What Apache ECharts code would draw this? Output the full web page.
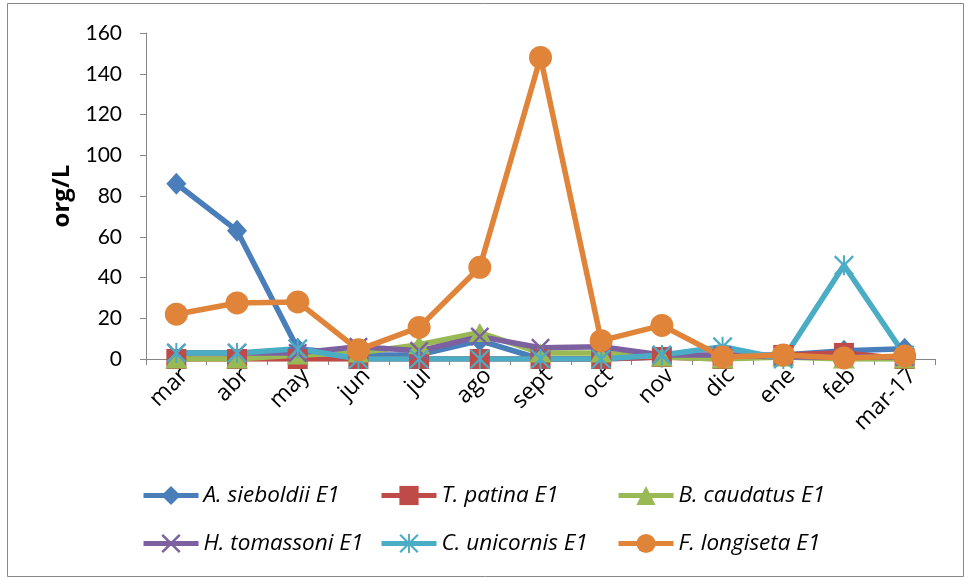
<!DOCTYPE html>
<html><head><meta charset="utf-8">
<script src="https://cdn.jsdelivr.net/npm/echarts@6/dist/echarts.min.js"></script>
<style>html,body{margin:0;padding:0;background:#fff}#c{width:969px;height:580px}</style>
</head><body><div id="c"></div>
<script>
var months = ['mar','abr','may','jun','jul','ago','sept','oct','nov','dic','ene','feb','mar-17'];
var yTicks = [0,20,40,60,80,100,120,140,160];
var seriesNames = ['A. sieboldii E1','T. patina E1','B. caudatus E1','H. tomassoni E1','C. unicornis E1','F. longiseta E1'];
var sieboldii  = [86, 63, 5, 2, 2, 9, 0, 0, 1, 2, 2, 4, 5];
var patina     = [0, 0, 0, 0, 0, 0, 0, 0, 1, 0, 2, 3, 0];
var caudatus   = [0, 0, 2, 3, 7, 13, 3, 3, 1, 0, 1, 0, 0];
var tomassoni  = [3, 3, 3, 6, 4, 11, 5.5, 6, 2, 2, 1, 1, 1];
var unicornis  = [3, 3, 5, 0, 0, 0, 0, 0, 2, 6, 0, 46, 2];
var longiseta  = [22, 27.5, 28, 4.5, 15.5, 45, 148, 9, 16.5, 1, 2, 0.5, 1.5];

var colors = ['#4A7EBB','#BE4B48','#98B954','#7D60A0','#4AACC5','#E0843A'];
var xPath = 'path://M0,9L9,0L100,91L91,100Z M91,0L100,9L9,100L0,91Z';
var starPath = 'path://M0,8L8,0L100,92L92,100Z M92,0L100,8L8,100L0,92Z M45,0L55,0L55,100L45,100Z';
var symbols = ['diamond','rect','triangle',xPath,starPath,'circle'];
var sizes = [[20,22],20,[22,19],19,20,23];
var datas = [sieboldii, patina, caudatus, tomassoni, unicornis, longiseta];

var font = 'Lato, "Open Sans", sans-serif';
var wide = '"Open Sans", Lato, sans-serif';
var series = seriesNames.map(function(n,i){
  return {
    name:n, type:'line', data:datas[i], symbol:symbols[i], symbolSize:sizes[i],
    showAllSymbol:true,
    lineStyle:{color:colors[i], width:5.5},
    itemStyle:{color:colors[i]},
    emphasis:{disabled:true}, animation:false
  };
});
var legPos = [[136,479],[374,479],[611,479],[136,527],[374,527],[611,527]];
var legends = seriesNames.map(function(n,i){
  return {
    data:[n], left:legPos[i][0], top:legPos[i][1], itemWidth:55, itemHeight:24,
    lineStyle:{width:5},
    textStyle:{fontFamily:wide, fontSize:22.5, fontStyle:'italic', color:'#000'},
    selectedMode:false
  };
});

var chart = echarts.init(document.getElementById('c'), null, {renderer:'canvas'});
chart.setOption({
  animation:false,
  graphic:[{type:'rect', shape:{x:7.5,y:3.5,width:956,height:573}, style:{fill:'none', stroke:'#888', lineWidth:1}, silent:true}],
  legend: legends,
  grid:{left:146, right:34, top:33, bottom:221},
  xAxis:{
    type:'category', data:months, boundaryGap:true,
    axisLine:{lineStyle:{color:'#868686', width:1}},
    axisTick:{show:true, length:6, lineStyle:{color:'#868686'}},
    axisLabel:{rotate:45, fontFamily:wide, fontSize:23, color:'#000', margin:5, interval:0,
               align:'right', verticalAlign:'top'}
  },
  yAxis:{
    type:'value', min:yTicks[0], max:yTicks[yTicks.length-1], interval:20,
    name:'org/L', nameLocation:'middle', nameGap:70,
    nameTextStyle:{fontFamily:wide, fontSize:24, fontWeight:'bold', color:'#000'},
    axisLine:{show:true, lineStyle:{color:'#868686', width:1}},
    axisTick:{show:true, length:6, lineStyle:{color:'#868686'}},
    splitLine:{show:false},
    axisLabel:{fontFamily:font, fontSize:21, color:'#000', margin:24}
  },
  series: series
});
</script></body></html>
